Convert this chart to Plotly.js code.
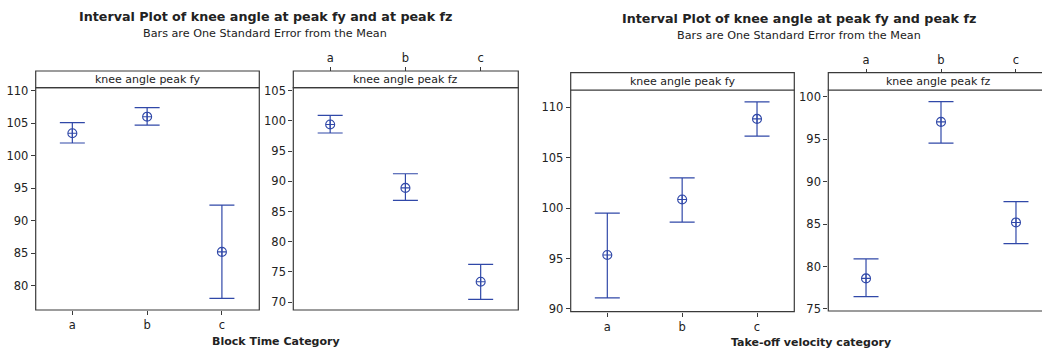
<!DOCTYPE html>
<html>
<head>
<meta charset="utf-8">
<script src="https://cdn.plot.ly/plotly-3.0.1.min.js"></script>
<style>html,body{margin:0;padding:0;background:#fff;}#chart{width:1042px;height:351px;}</style>
</head>
<body>
<div id="chart"></div>
<script>
// ---- data ----
const categories = ['a', 'b', 'c'];
// Block Time Category
const blockFyMean  = [103.45, 106.0, 85.2];
const blockFyUpper = [105.1, 107.4, 92.4];
const blockFyLower = [101.95, 104.7, 78.05];
const blockFzMean  = [99.4, 88.9, 73.35];
const blockFzUpper = [100.9, 91.25, 76.25];
const blockFzLower = [98.0, 86.85, 70.45];
// Take-off velocity category
const takeFyMean  = [95.35, 100.85, 108.85];
const takeFyUpper = [99.5, 103.0, 110.55];
const takeFyLower = [91.1, 98.6, 107.15];
const takeFzMean  = [78.6, 97.05, 85.2];
const takeFzUpper = [80.9, 99.45, 87.65];
const takeFzLower = [76.45, 94.55, 82.7];

const titleText = 'Interval Plot of knee angle at peak fy and at peak fz';
const titleText2 = 'Interval Plot of knee angle at peak fy and peak fz';
const subtitleText = 'Bars are One Standard Error from the Mean';
const stripFy = 'knee angle peak fy';
const stripFz = 'knee angle peak fz';
const xTitle1 = 'Block Time Category';
const xTitle2 = 'Take-off velocity category';

// ---- layout helpers ----
const W = 1042, H = 351;
const px = x => x / W;
const py = y => 1 - y / H;
const BLUE = '#3048a8';
const LINE = '#3a3a3a';
const TXT = '#222222';
const FONT = 'DejaVu Sans, Verdana, sans-serif';

function trace(mean, upper, lower, xa, ya) {
  return {
    type: 'scatter', mode: 'markers',
    x: categories, y: mean, xaxis: xa, yaxis: ya,
    marker: {symbol: 'circle-cross-open', size: 9, color: BLUE, line: {width: 1.1, color: BLUE}},
    error_y: {
      type: 'data', symmetric: false,
      array: upper.map((u, i) => u - mean[i]),
      arrayminus: lower.map((l, i) => mean[i] - l),
      color: BLUE, thickness: 1.2, width: 12.5
    },
    hoverinfo: 'x+y', showlegend: false, cliponaxis: false
  };
}

const data = [
  trace(blockFyMean, blockFyUpper, blockFyLower, 'x', 'y'),
  trace(blockFzMean, blockFzUpper, blockFzLower, 'x2', 'y2'),
  trace(takeFyMean, takeFyUpper, takeFyLower, 'x3', 'y3'),
  trace(takeFzMean, takeFzUpper, takeFzLower, 'x4', 'y4')
];

// panels: [left, right, stripTop, stripBottom, plotBottom]
const panels = [
  [35.7, 259.3, 71, 87.7, 310],
  [293.3, 518.3, 71, 87.7, 310],
  [570.7, 794.3, 72.7, 90, 311.7],
  [828.3, 1060, 72.7, 90, 311]
];

function xax(p, range, extra) {
  return Object.assign({
    domain: [px(p[0]), Math.min(1, px(p[1]))],
    type: 'category', range: range,
    tickvals: categories, ticktext: categories,
    ticks: 'outside', ticklen: 4, tickwidth: 1, tickcolor: LINE,
    showline: false, showgrid: false, zeroline: false,
    tickfont: {family: FONT, size: 11.5, color: TXT}, fixedrange: true
  }, extra);
}
function yax(p, range, anchor) {
  return {
    domain: [py(p[4]), py(p[3])], range: range, anchor: anchor,
    dtick: 5, ticks: 'outside', ticklen: 4, tickwidth: 1, tickcolor: LINE,
    showline: false, showgrid: false, zeroline: false,
    tickfont: {family: FONT, size: 11.5, color: TXT}, fixedrange: true
  };
}

const shapes = [];
const annotations = [];
const stripLabels = [stripFy, stripFz, stripFy, stripFz];
panels.forEach((p, i) => {
  shapes.push({type: 'rect', xref: 'paper', yref: 'paper', x0: px(p[0]), x1: px(p[1]),
    y0: py(p[4]), y1: py(p[3]), line: {color: LINE, width: 1.2}, layer: 'above'});
  shapes.push({type: 'rect', xref: 'paper', yref: 'paper', x0: px(p[0]), x1: px(p[1]),
    y0: py(p[3]), y1: py(p[2]), line: {color: LINE, width: 1.2}, fillcolor: '#ffffff', layer: 'above'});
  annotations.push({xref: 'paper', yref: 'paper', x: px((p[0] + (i === 3 ? 1049 : p[1])) / 2),
    y: py((p[2] + p[3]) / 2), text: stripLabels[i], showarrow: false,
    xanchor: 'center', yanchor: 'middle', font: {family: FONT, size: 11, color: TXT}});
});

// titles
annotations.push(
  {xref: 'paper', yref: 'paper', x: px(265), y: py(17), text: '<b>' + titleText + '</b>', showarrow: false,
   xanchor: 'center', yanchor: 'middle', font: {family: FONT, size: 12.7, color: TXT}},
  {xref: 'paper', yref: 'paper', x: px(265), y: py(33), text: subtitleText, showarrow: false,
   xanchor: 'center', yanchor: 'middle', font: {family: FONT, size: 11.2, color: TXT}},
  {xref: 'paper', yref: 'paper', x: px(799), y: py(18.5), text: '<b>' + titleText2 + '</b>', showarrow: false,
   xanchor: 'center', yanchor: 'middle', font: {family: FONT, size: 12.7, color: TXT}},
  {xref: 'paper', yref: 'paper', x: px(799), y: py(35), text: subtitleText, showarrow: false,
   xanchor: 'center', yanchor: 'middle', font: {family: FONT, size: 11.2, color: TXT}},
  {xref: 'paper', yref: 'paper', x: px(276), y: py(341), text: '<b>' + xTitle1 + '</b>', showarrow: false,
   xanchor: 'center', yanchor: 'middle', font: {family: FONT, size: 11, color: TXT}},
  {xref: 'paper', yref: 'paper', x: px(811), y: py(342), text: '<b>' + xTitle2 + '</b>', showarrow: false,
   xanchor: 'center', yanchor: 'middle', font: {family: FONT, size: 11, color: TXT}}
);

const layout = {
  width: W, height: H,
  margin: {l: 0, r: 0, t: 0, b: 0, pad: 0},
  paper_bgcolor: '#ffffff', plot_bgcolor: '#ffffff',
  font: {family: FONT, size: 11, color: TXT},
  showlegend: false,
  xaxis: xax(panels[0], [-0.49, 2.5], {anchor: 'y'}),
  yaxis: yax(panels[0], [76.26, 110.46], 'x'),
  xaxis2: xax(panels[1], [-0.49, 2.5], {anchor: 'free', position: py(71), side: 'top'}),
  yaxis2: yax(panels[1], [68.68, 105.5], 'x2'),
  xaxis3: xax(panels[2], [-0.489, 2.498], {anchor: 'y3'}),
  yaxis3: yax(panels[2], [89.72, 111.72], 'x3'),
  xaxis4: xax(panels[3], [-0.503, 2.347], {anchor: 'free', position: py(72.7), side: 'top'}),
  yaxis4: yax(panels[3], [74.76, 100.81], 'x4'),
  shapes: shapes,
  annotations: annotations
};

Plotly.newPlot('chart', data, layout, {displayModeBar: false, staticPlot: true});
</script>
</body>
</html>
